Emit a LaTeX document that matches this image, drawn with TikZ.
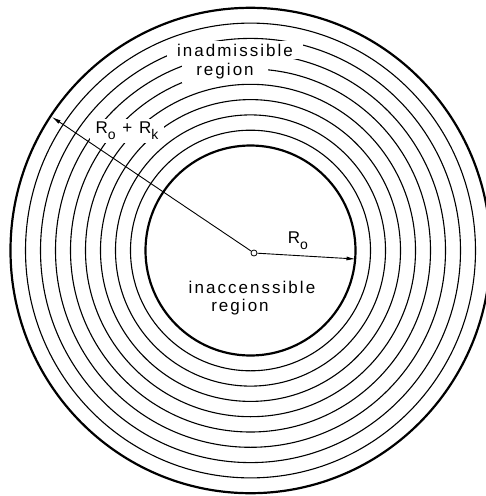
\documentclass[tikz,border=0pt]{standalone}
\usepackage{fontspec}
\setmainfont{Liberation Sans}[LetterSpace=12]
\usetikzlibrary{arrows.meta}
\newcommand\sublbl[1]{\raisebox{-0.35em}{\fontsize{14}{14}\selectfont #1}}
\begin{document}
\begin{tikzpicture}[x=1pt,y=-1pt,
  ring/.style={line width=1.1pt},
  boldring/.style={line width=2.2pt},
  lbl/.style={font=\fontsize{17}{19}\selectfont, fill=white, inner xsep=10pt, inner ysep=3pt},
  plainlbl/.style={font=\fontsize{17}{19}\selectfont, inner sep=1pt},
  radline/.style={line width=0.9pt, -{Latex[length=9pt,width=4pt]}}]
\clip (0,0) rectangle (486,496);
\coordinate (C) at (250.5,250.5);
\foreach \i in {1,...,8}
  \draw[ring] (C) ellipse [x radius={105+15*\i}, y radius={105+15.3*\i}];
\draw[boldring] (C) ellipse [x radius=105, y radius=105];
\draw[boldring] (C) ellipse [x radius=240, y radius=242.7];
\node[lbl] (inad) at (235,50) {inadmissible};
\node[lbl, inner ysep=4pt, inner xsep=14pt] (reg1) at (225,71) {region};
\node[lbl, inner xsep=6pt] (rork) at (127,131) {R\sublbl{o} + R\sublbl{k}};
\node[plainlbl] (ro) at (298,241) {R\sublbl{o}};
\node[plainlbl] (inacc) at (252,287) {inaccenssible};
\node[plainlbl] (reg2) at (240,307) {region};
\node[draw, circle, inner sep=0pt, minimum size=6pt, fill=white, line width=0.8pt] (o) at (254,253) {};
\coordinate (a1) at (355.5,259);
\coordinate (a2) at (52,117);
\draw[radline] (o) -- (a1);
\draw[radline] (o) -- (a2);
\end{tikzpicture}
\end{document}
